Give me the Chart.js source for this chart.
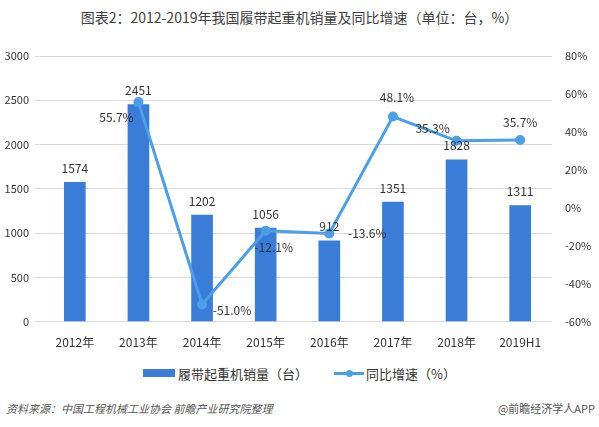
<!DOCTYPE html>
<html>
<head>
<meta charset="utf-8">
<script src="https://cdn.jsdelivr.net/npm/chart.js@4/dist/chart.umd.min.js"></script>
<style>
  html, body { margin: 0; padding: 0; background: #fff; }
  body { width: 599px; height: 427px; position: relative; overflow: hidden; font-family: "Noto Sans CJK SC", sans-serif; }
  #title { position: absolute; top: 7px; left: 0; width: 599px; text-align: center; font-size: 14px; color: #404040; }
  #wrap { position: absolute; top: 0; left: 0; width: 599px; height: 356px; }
  #legend { position: absolute; top: 362px; left: 0; width: 599px; text-align: center; font-size: 13px; color: #333; }
  #legend span { display: inline-block; vertical-align: middle; }
  .sw-bar { width: 32px; height: 8px; background: #3a7dd8; margin-right: 3px; }
  .sw-line { width: 30px; height: 3px; background: #4a9fe6; margin-left: 26px; margin-right: 2px; position: relative; }
  .sw-line i { position: absolute; left: 12px; top: -2px; width: 7px; height: 7px; border-radius: 50%; background: #4a9fe6; }
  #src { position: absolute; top: 400px; left: 6px; font-size: 11px; font-style: italic; color: #555; }
  #app { position: absolute; top: 400px; right: 4px; font-size: 11px; color: #555; }
</style>
</head>
<body>
<div id="title">图表2：2012-2019年我国履带起重机销量及同比增速（单位：台，%）</div>
<div id="wrap"><canvas id="c"></canvas></div>
<div id="legend"><span class="sw-bar"></span><span>履带起重机销量（台）</span><span class="sw-line"><i></i></span><span>同比增速（%）</span></div>
<div id="src">资料来源：中国工程机械工业协会 前瞻产业研究院整理</div>
<div id="app">@前瞻经济学人APP</div>
<script>
  const years = ['2012年', '2013年', '2014年', '2015年', '2016年', '2017年', '2018年', '2019H1'];
  const sales = [1574, 2451, 1202, 1056, 912, 1351, 1828, 1311];
  const growth = [null, 55.7, -51.0, -12.1, -13.6, 48.1, 35.3, 35.7];
  const growthText = ['', '55.7%', '-51.0%', '-12.1%', '-13.6%', '48.1%', '35.3%', '35.7%'];

  // label offsets for the growth line (dx, dy from point)
  const lineLabelPos = [[0, 0], [-22, 15], [30, 6], [8, 17], [38, 0], [4, -19], [-24, -12], [0, -18]];

  const labelsPlugin = {
    id: 'labels',
    afterDatasetsDraw(chart) {
      const ctx = chart.ctx;
      ctx.save();
      ctx.font = '12px "Noto Sans CJK SC", sans-serif';
      ctx.fillStyle = '#333';
      ctx.textAlign = 'center';
      ctx.textBaseline = 'middle';
      chart.getDatasetMeta(0).data.forEach((bar, i) => {
        ctx.fillText(String(sales[i]), bar.x, bar.y - 14);
      });
      chart.getDatasetMeta(1).data.forEach((pt, i) => {
        if (growth[i] === null) return;
        const p = lineLabelPos[i];
        ctx.fillText(growthText[i], pt.x + p[0], pt.y + p[1]);
      });
      ctx.restore();
    }
  };

  const tickFont = { family: '"Noto Sans CJK SC", sans-serif', size: 11 };

  new Chart(document.getElementById('c'), {
    data: {
      labels: years,
      datasets: [
        { type: 'bar', label: '履带起重机销量（台）', data: sales, backgroundColor: '#3a7dd8', barThickness: 21, yAxisID: 'y', order: 2 },
        { type: 'line', label: '同比增速（%）', data: growth, borderColor: '#4a9fe6', backgroundColor: '#4a9fe6', borderWidth: 3, pointRadius: 3.5, pointBackgroundColor: '#4a9fe6', tension: 0, yAxisID: 'y1', order: 1 }
      ]
    },
    options: {
      responsive: true,
      maintainAspectRatio: false,
      animation: false,
      layout: { padding: { top: 56, left: 0, right: 0, bottom: 0 } },
      plugins: { legend: { display: false }, tooltip: { enabled: false } },
      scales: {
        x: {
          grid: { display: false },
          border: { display: false },
          ticks: { color: '#333', font: { family: '"Noto Sans CJK SC", sans-serif', size: 12 }, padding: 6 }
        },
        y: {
          position: 'left', min: 0, max: 3000,
          ticks: { stepSize: 500, color: '#333', font: tickFont, padding: 6, callback: v => String(v) },
          grid: { color: '#d9d9d9' },
          border: { display: false },
          afterFit(s) { s.width = 43; }
        },
        y1: {
          position: 'right', min: -60, max: 80,
          ticks: { stepSize: 20, color: '#333', font: tickFont, padding: 5, callback: v => v + '%' },
          grid: { display: false },
          border: { display: false },
          afterFit(s) { s.width = 47; }
        }
      }
    },
    plugins: [labelsPlugin]
  });
</script>
</body>
</html>
